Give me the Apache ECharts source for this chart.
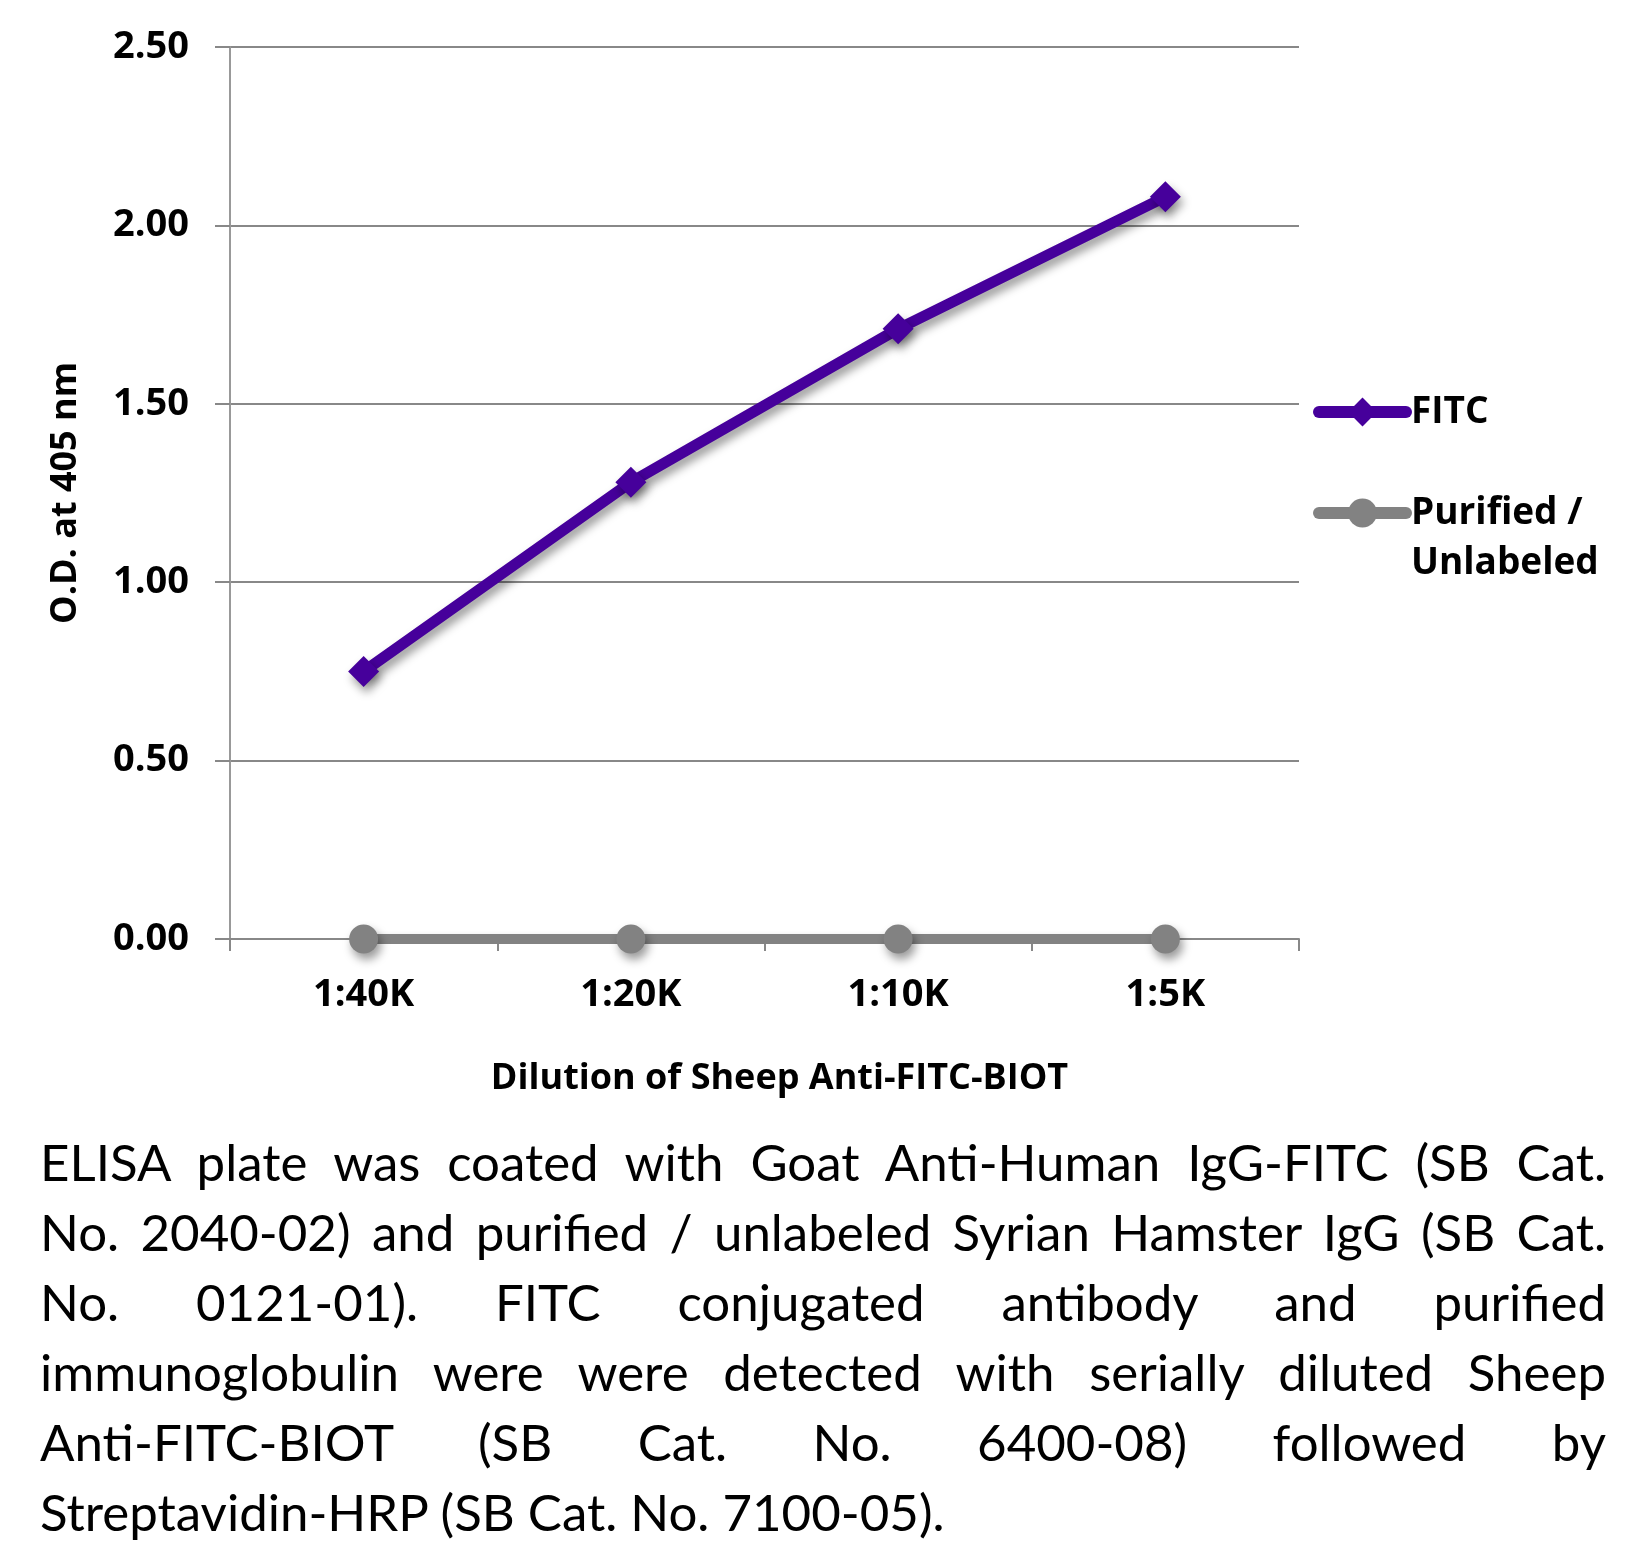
<!DOCTYPE html>
<html>
<head>
<meta charset="utf-8">
<script src="https://cdn.jsdelivr.net/npm/echarts@6/dist/echarts.min.js"></script>
<style>
html,body{margin:0;padding:0;background:#fff;}
#chart{position:absolute;left:0;top:0;width:1629px;height:1547px;}
#caption{position:absolute;left:40px;top:1127px;width:1566px;font-family:Lato,"Open Sans",sans-serif;font-size:51px;line-height:70px;color:#000;z-index:2;}
#caption div{white-space:nowrap;text-align:justify;text-align-last:justify;}
#caption div.last{text-align-last:left;}
</style>
</head>
<body>
<div id="chart"></div>
<div id="caption"></div>
<script>
// ---- data ----
const categories = ['1:40K', '1:20K', '1:10K', '1:5K'];
const fitcValues = [0.75, 1.28, 1.71, 2.08];
const purifiedValues = [0.00, 0.00, 0.00, 0.00];
const seriesNames = ['FITC', 'Purified /\nUnlabeled'];
const yTicks = { min: 0, max: 2.5, interval: 0.5 };
const xTitle = 'Dilution of Sheep Anti-FITC-BIOT';
const yTitle = 'O.D. at 405 nm';
const captionLines = [
  'ELISA plate was coated with Goat Anti-Human IgG-FITC (SB Cat.',
  'No. 2040-02) and purified / unlabeled Syrian Hamster IgG (SB Cat.',
  'No.  0121-01).  FITC conjugated antibody and purified',
  'immunoglobulin were were detected with serially diluted Sheep',
  'Anti-FITC-BIOT (SB Cat. No. 6400-08) followed by',
  'Streptavidin-HRP (SB Cat. No. 7100-05).'
];

// caption: letter spacing fitted so the widest line still fits the block
const cap = document.getElementById('caption');
const captionWidth = 1566;
captionLines.forEach((t, i) => {
  const d = document.createElement('div');
  if (i === captionLines.length - 1) d.className = 'last';
  const s = document.createElement('span');
  s.textContent = t;
  d.appendChild(s);
  cap.appendChild(d);
});
(function () {
  let ls = 10;
  cap.querySelectorAll('span').forEach(s => {
    const w = s.getBoundingClientRect().width;
    const n = s.textContent.length;
    ls = Math.min(ls, (captionWidth - 4 - w) / n);
  });
  cap.style.letterSpacing = Math.max(0, ls).toFixed(2) + 'px';
})();

const FONT = '"Open Sans", "Noto Sans", sans-serif';
const purple = '#46009b';
const gray = '#828282';
const shadow = { shadowColor: 'rgba(0,0,0,0.4)', shadowBlur: 10, shadowOffsetX: 3, shadowOffsetY: 6 };

const chart = echarts.init(document.getElementById('chart'), null, { renderer: 'canvas' });
chart.setOption({
  animation: false,
  backgroundColor: '#fff',
  grid: { left: 230, right: 330, top: 47, bottom: 608, containLabel: false },
  legend: {
    orient: 'vertical',
    left: 1308,
    top: 382,
    itemWidth: 87,
    itemHeight: 36,
    itemGap: 1,
    lineStyle: { width: 12, cap: 'round' },
    formatter: name => (name.indexOf('\n') >= 0 ? '\n' + name : name),
    textStyle: { fontFamily: FONT, fontWeight: 'bold', fontSize: 37, color: '#000', lineHeight: 50 },
    data: [seriesNames[0], seriesNames[1]]
  },
  xAxis: {
    type: 'category',
    data: categories,
    boundaryGap: true,
    name: xTitle,
    nameLocation: 'middle',
    nameGap: 122,
    nameTextStyle: { fontFamily: FONT, fontWeight: 'bold', fontSize: 36, color: '#000', padding: [0, 0, 0, 30] },
    axisLine: { show: true, lineStyle: { color: '#888', width: 2 } },
    axisTick: { show: true, length: 12, inside: false, lineStyle: { color: '#888', width: 2 } },
    axisLabel: { margin: 37, fontFamily: FONT, fontWeight: 'bold', fontSize: 38, color: '#000' },
    splitLine: { show: false }
  },
  yAxis: {
    type: 'value',
    min: yTicks.min,
    max: yTicks.max,
    interval: yTicks.interval,
    name: yTitle,
    nameLocation: 'middle',
    nameGap: 146,
    nameTextStyle: { fontFamily: FONT, fontWeight: 'bold', fontSize: 36, color: '#000' },
    axisLine: { show: true, lineStyle: { color: '#999', width: 2 } },
    axisTick: { show: true, length: 15, inside: false, lineStyle: { color: '#888', width: 2 } },
    axisLabel: { margin: 41, fontFamily: FONT, fontWeight: 'bold', fontSize: 38, color: '#000',
      formatter: v => v.toFixed(2) },
    splitLine: { show: true, lineStyle: { color: '#888', width: 2 } }
  },
  series: [
    {
      name: seriesNames[0],
      type: 'line',
      data: fitcValues,
      symbol: 'diamond',
      symbolSize: 31,
      z: 3,
      lineStyle: Object.assign({ color: purple, width: 11 }, shadow),
      itemStyle: Object.assign({ color: purple }, shadow)
    },
    {
      name: seriesNames[1],
      type: 'line',
      data: purifiedValues,
      symbol: 'circle',
      symbolSize: 29,
      z: 2,
      lineStyle: Object.assign({ color: gray, width: 10 }, shadow),
      itemStyle: Object.assign({ color: gray }, shadow)
    }
  ]
});
</script>
</body>
</html>
